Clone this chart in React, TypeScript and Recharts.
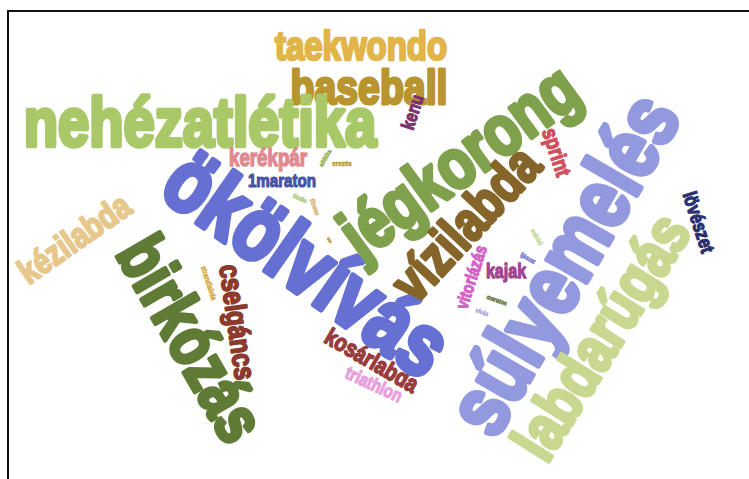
import React from 'react';
import { ScatterChart, Scatter, XAxis, YAxis } from 'recharts';

// szavak és a felhő elrendezése
const words = [
  'taekwondo', 'baseball', 'nehézatlétika', 'kerékpár', '1maraton', 'kajak',
  'erezés', 'atlétika', 'úszás', 'fitness', 'íj', 'strandlabda',
  'szánkó', 'íjászat', 'maraton', 'vívás', 'vitorlázás', 'kenu',
  'sprint', 'lövészet', 'kosárlabda', 'triathlon', 'cselgáncs', 'kézilabda',
  'birkózás', 'ökölvívás', 'jégkorong', 'vízilabda', 'súlyemelés', 'labdarúgás',
];
const wordX = [
  361, 369, 200, 268, 282, 506,
  342, 325, 300, 315, 329, 209,
  537, 528, 497, 482, 471, 412,
  557, 699, 372, 374, 238, 74,
  192, 308, 458, 465, 562, 600,
];
const wordY = [
  45, 87, 121, 158, 180, 271,
  163, 158, 198, 207, 240, 283,
  237, 258, 300, 312, 277, 112,
  152, 222, 360, 384, 322, 238,
  338, 262, 160, 223, 263, 336,
];
const weights = [
  37, 44, 63, 21, 17, 18,
  7, 6, 6, 6, 6, 7,
  6, 6, 6, 6, 16, 17,
  20, 18, 22, 17, 27, 32,
  62, 80, 64, 50, 78, 58,
];
const angles = [
  0, 0, 0, 0, 0, 0,
  0, -60, 25, 70, -30, 72,
  60, 30, 20, 20, -72, -72,
  72, 72, 30, 25, 82, -35,
  60, 35, -36, -47, -60, -58,
];
const colors = [
  '#E2B54A', '#B8952F', '#A9C867', '#E08A90', '#4654A8', '#A04592',
  '#B89A45', '#8FAE55', '#A8C880', '#D8B070', '#B08A30', '#D8A840',
  '#C0D890', '#6A74C8', '#5A7030', '#A8A8E0', '#D462C6', '#7E3070',
  '#D24F5E', '#2A3070', '#983C3C', '#E8A0DC', '#8C3A2C', '#E6C88C',
  '#5F7B36', '#6570D2', '#7FA04C', '#86652A', '#9399DE', '#C8D890',
];

const data = words.map((text, i) => ({
  x: wordX[i],
  y: wordY[i],
  text,
  weight: weights[i],
  angle: angles[i],
  color: colors[i],
}));

// Impact-szerű, keskeny betű: Liberation Sans Bold vízszintesen összenyomva
const WordShape = (props: any) => {
  const { cx, cy, payload } = props;
  if (cx == null || cy == null) return null;
  const size = payload.weight;
  return (
    <text
      transform={`translate(${cx},${cy}) rotate(${payload.angle}) scale(0.81,1)`}
      x={0}
      y={size * 0.395}
      textAnchor="middle"
      fontFamily="'Liberation Sans', Arial, sans-serif"
      fontWeight={700}
      fontSize={size * 1.1}
      fill={payload.color}
      stroke={payload.color}
      strokeWidth={size * 0.07}
      strokeLinejoin="round"
    >
      {payload.text}
    </text>
  );
};

export default function App() {
  return (
    <div style={{ position: 'fixed', left: 0, top: 0, width: 749, height: 479, background: '#fff', overflow: 'hidden' }}>
      <div
        style={{
          position: 'absolute',
          left: 7,
          top: 10,
          width: 760,
          height: 480,
          borderTop: '2px solid #111',
          borderLeft: '2px solid #111',
        }}
      />
      <div style={{ position: 'absolute', left: 0, top: 0 }}>
        <ScatterChart width={749} height={479} margin={{ top: 0, right: 0, bottom: 0, left: 0 }}>
          <XAxis type="number" dataKey="x" domain={[0, 749]} hide />
          <YAxis type="number" dataKey="y" domain={[0, 479]} reversed hide />
          <Scatter data={data} shape={WordShape} isAnimationActive={false} />
        </ScatterChart>
      </div>
    </div>
  );
}
